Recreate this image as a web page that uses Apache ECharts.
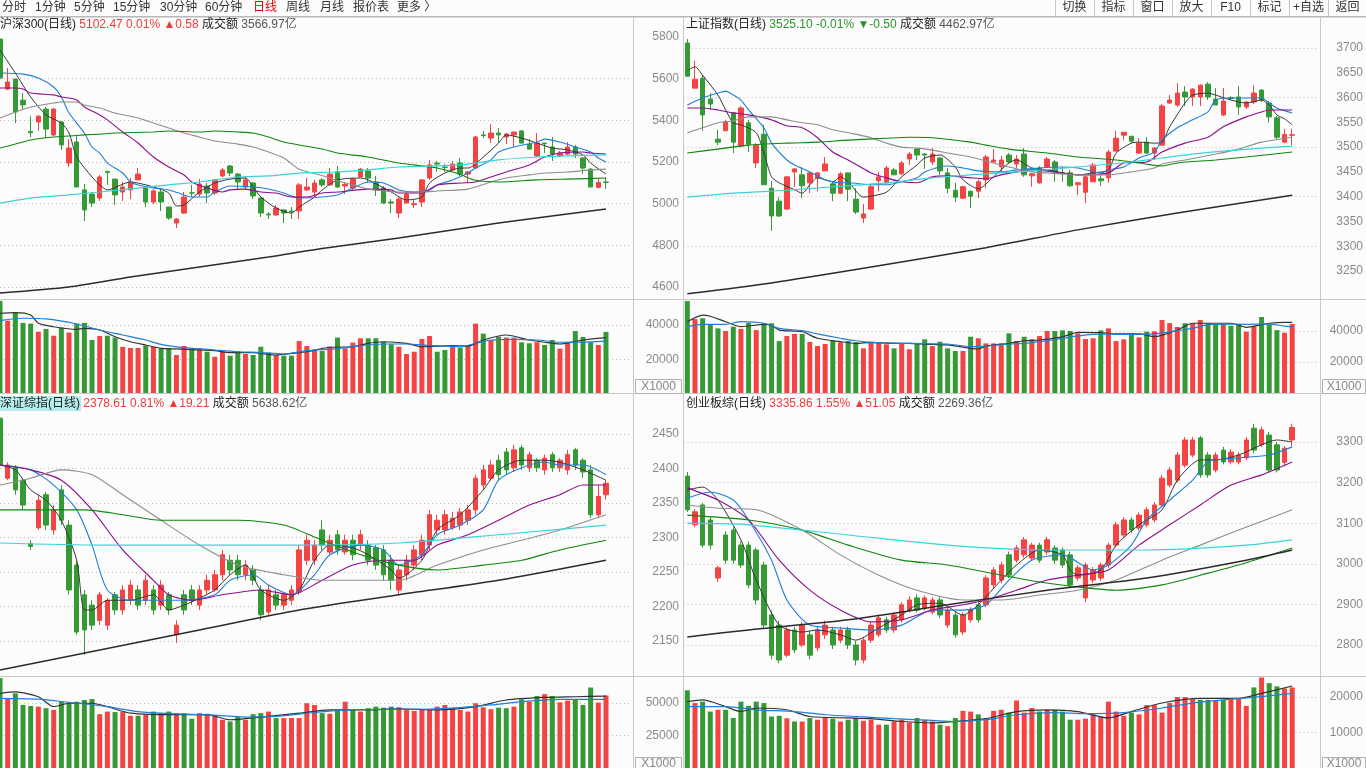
<!DOCTYPE html>
<html>
<head>
<meta charset="utf-8">
<title>日线</title>
<script src="https://cdn.jsdelivr.net/npm/echarts/dist/echarts.min.js"></script>
<style>
  html, body { margin: 0; padding: 0; background: #fcfcfc; }
  #main { width: 1366px; height: 768px; }
</style>
</head>
<body>
<div id="main"></div>
<script>
var RED = '#f44343';
var GREEN = '#359a35';

// 沪深300  [open, close, low, high]
var hsCandles = [
  [5790,5603,5600,5800],[5550,5584,5545,5651],[5598,5440,5387,5600],[5497,5474,5450,5531],[5346,5340,5320,5420],
  [5392,5420,5350,5425],[5454,5358,5315,5464],[5330,5454,5325,5460],[5392,5282,5258,5397],[5195,5267,5176,5310],
  [5296,5080,5080,5330],[5066,4970,4917,5094],[5046,5003,4984,5056],[5027,5128,5013,5138],[5155,5150,5090,5157],
  [5118,5042,4994,5120],[5056,5080,5013,5104],[5066,5104,5022,5123],[5114,5142,5114,5171],[5075,5008,4984,5085],
  [5008,5061,4998,5070],[5056,5008,4965,5075],[4984,4931,4922,4984],[4907,4926,4883,4931],[4955,5032,4950,5056],
  [5052,5051,5032,5090],[5046,5094,5032,5118],[5085,5051,5003,5099],[5051,5114,5042,5118],[5133,5162,5128,5171],
  [5181,5147,5133,5186],[5142,5104,5066,5147],[5080,5114,5066,5133],[5099,5037,5022,5104],[5027,4955,4936,5032],
  [4950,4946,4926,4960],[4946,4979,4940,4994],[4970,4955,4907,4970],[4965,4962,4926,4984],[4965,5090,4926,5099],
  [5066,5080,5061,5123],[5056,5099,5032,5114],[5114,5090,5080,5123],[5090,5142,5090,5171],[5152,5080,5075,5181],
  [5085,5092,5046,5104],[5075,5118,5066,5123],[5128,5166,5128,5171],[5157,5123,5099,5171],[5104,5066,5037,5133],
  [5075,5003,4998,5085],[5008,5003,4955,5022],[4955,5022,4931,5032],[5003,5046,5003,5056],[4995,5000,4979,5022],
  [5008,5114,4984,5118],[5123,5186,5114,5210],[5195,5190,5152,5205],[5176,5174,5152,5190],[5162,5190,5157,5205],
  [5195,5142,5133,5219],[5142,5152,5099,5157],[5171,5320,5166,5325],[5330,5327,5315,5349],[5315,5339,5291,5382],
  [5339,5330,5291,5363],[5320,5334,5286,5339],[5330,5344,5272,5344],[5349,5291,5286,5354],[5286,5262,5258,5310],
  [5229,5291,5224,5339],[5291,5288,5243,5291],[5272,5238,5205,5320],[5229,5243,5224,5253],[5238,5272,5234,5296],
  [5272,5238,5219,5282],[5219,5171,5142,5224],[5166,5080,5080,5171],[5078,5101.89,5075,5123],[5104,5102.47,5070,5128]
];
var hsVolume = [
  53940,42500,47400,41200,40800,36100,37700,33800,38500,35600,40800,41200,31300,33600,33800,32700,27300,26700,26700,28200,
  27400,26500,26500,22600,27800,25900,26500,24500,21600,25100,22200,24800,23200,22600,27400,24000,22600,22200,22200,30700,
  27800,25500,24900,27400,32700,26500,29800,32300,32300,32300,30300,28800,27400,23200,24500,31900,33600,24500,25500,27400,
  26900,28400,40800,35000,31300,33200,32700,32700,30000,29400,30000,28400,31300,26300,30000,36500,33100,30000,28400,36000
];
var hsMA5 = [[0,5738],[2,5627],[4,5512],[6,5426],[8,5387],[9,5339],[10,5224],[12,5128],[13,5090],[14,5066],[17,5104],[18,5099],[20,5080],[22,5051],[23,4989],[24,4994],[26,5056],[28,5099],[30,5118],[32,5123],[33,5080],[34,5032],[36,4979],[38,4955],[39,4984],[41,5032],[42,5066],[44,5114],[47,5123],[48,5114],[51,5056],[53,5018],[55,5032],[56,5099],[58,5147],[60,5171],[61,5171],[63,5224],[65,5291],[66,5330],[68,5315],[70,5291],[72,5267],[74,5258],[76,5234],[77,5195],[79,5142]];
var hsMA10 = [[0,5627],[3,5622],[5,5603],[7,5560],[8,5512],[9,5435],[11,5339],[12,5272],[13,5243],[14,5195],[16,5147],[17,5104],[18,5090],[20,5075],[22,5066],[24,5042],[25,5032],[27,5032],[28,5056],[30,5085],[33,5080],[35,5070],[37,5051],[39,5027],[42,5032],[44,5042],[46,5075],[48,5104],[50,5099],[52,5066],[54,5056],[56,5066],[57,5090],[59,5114],[61,5147],[62,5171],[64,5210],[65,5248],[67,5272],[70,5296],[71,5310],[73,5296],[75,5272],[77,5248],[78,5219],[79,5200]];
var hsMA20 = [[0,5555],[2,5555],[3,5550],[4,5531],[7,5522],[8,5512],[10,5498],[11,5464],[13,5426],[14,5402],[16,5344],[18,5291],[20,5224],[22,5176],[24,5138],[25,5104],[27,5075],[29,5056],[30,5066],[32,5070],[34,5056],[36,5051],[38,5032],[40,5032],[42,5051],[44,5056],[48,5070],[51,5066],[52,5051],[55,5051],[57,5090],[60,5099],[62,5104],[64,5128],[66,5152],[69,5186],[71,5224],[73,5243],[76,5248],[77,5243],[79,5238]];
var hsMA30 = [[0,5411],[2,5440],[4,5464],[7,5483],[8,5488],[10,5488],[11,5474],[13,5459],[15,5435],[18,5411],[20,5387],[22,5363],[24,5339],[26,5320],[28,5301],[31,5286],[33,5272],[35,5248],[37,5219],[39,5165],[42,5135],[44,5110],[46,5090],[48,5070],[50,5061],[52,5056],[55,5056],[57,5061],[61,5070],[64,5104],[66,5123],[69,5138],[71,5147],[74,5152],[77,5162],[79,5166]];
var hsMA60 = [[0,5267],[2,5286],[4,5306],[7,5320],[9,5325],[11,5330],[13,5334],[15,5339],[20,5344],[22,5349],[26,5344],[28,5349],[31,5344],[33,5339],[35,5320],[37,5296],[39,5282],[42,5262],[44,5243],[48,5224],[52,5195],[57,5171],[60,5140],[62,5112],[65,5104],[70,5114],[74,5118],[79,5123]];
var hsMA120 = [[0,5003],[4,5027],[9,5042],[13,5056],[18,5075],[22,5090],[26,5104],[31,5128],[35,5133],[39,5147],[44,5152],[48,5162],[52,5176],[57,5181],[61,5190],[65,5210],[70,5224],[74,5229],[79,5234]];
var hsMA250 = [[0,4571],[9,4600],[17,4648],[26,4696],[35,4744],[42,4785],[52,4835],[65,4907],[79,4974]];
var hsVolMA5 = [[0,46800],[2,47200],[4,45800],[5,41000],[7,39000],[10,37500],[11,38000],[13,37100],[15,33200],[17,30300],[19,28400],[21,26500],[24,26000],[28,25100],[30,24000],[33,24000],[36,22600],[38,23500],[40,24500],[43,27100],[46,27400],[48,29400],[50,30300],[53,29400],[55,27400],[59,28000],[61,27700],[63,31300],[66,34200],[69,31300],[71,30000],[73,29000],[76,31300],[79,32700]];
var hsVolMA10 = [[0,42500],[3,43900],[6,43500],[10,40600],[13,37100],[16,34200],[19,31300],[21,28800],[24,26900],[28,25500],[31,24500],[34,24000],[37,23200],[40,25100],[44,26300],[47,28000],[50,29000],[53,29000],[56,28200],[60,27400],[62,29400],[64,31300],[67,31700],[70,31300],[73,30000],[77,30200],[79,30700]];

// 上证指数
var shCandles = [
  [3710,3643,3643,3718],[3619,3637,3619,3674],[3639,3565,3533,3645],[3597,3587,3575,3609],[3516,3510,3504,3535],
  [3533,3551,3533,3555],[3569,3510,3488,3569],[3502,3579,3500,3583],[3549,3506,3490,3555],[3468,3504,3458,3508],
  [3526,3424,3424,3545],[3417,3361,3331,3432],[3391,3361,3359,3399],[3375,3440,3373,3440],[3450,3456,3420,3458],
  [3444,3422,3397,3460],[3428,3448,3407,3450],[3438,3448,3411,3450],[3452,3466,3452,3480],[3426,3407,3391,3430],
  [3407,3446,3405,3450],[3448,3415,3391,3448],[3395,3369,3365,3417],[3357,3365,3347,3385],[3375,3420,3373,3424],
  [3432,3440,3411,3450],[3428,3458,3426,3462],[3454,3444,3444,3458],[3446,3468,3444,3472],[3476,3486,3464,3490],
  [3496,3484,3474,3498],[3486,3484,3456,3488],[3470,3486,3464,3498],[3478,3452,3444,3480],[3448,3417,3407,3458],
  [3413,3399,3389,3428],[3397,3420,3395,3422],[3411,3401,3377,3411],[3411,3430,3397,3434],[3434,3480,3417,3484],
  [3470,3474,3468,3496],[3460,3474,3450,3482],[3484,3470,3466,3488],[3466,3476,3458,3484],[3486,3444,3440,3498],
  [3442,3446,3420,3448],[3428,3458,3426,3462],[3460,3476,3458,3480],[3470,3450,3430,3474],[3448,3446,3430,3460],
  [3448,3422,3420,3454],[3424,3428,3403,3430],[3409,3440,3387,3442],[3430,3464,3430,3468],[3436,3432,3422,3444],
  [3438,3490,3428,3494],[3492,3518,3490,3533],[3524,3530,3514,3530],[3522,3512,3508,3522],[3488,3508,3486,3518],
  [3510,3488,3486,3520],[3488,3498,3474,3500],[3504,3583,3502,3587],[3589,3595,3587,3605],[3585,3609,3581,3629],
  [3611,3601,3583,3623],[3601,3617,3583,3619],[3601,3625,3583,3627],[3627,3601,3595,3631],[3597,3585,3585,3619],
  [3565,3593,3563,3619],[3600,3598,3595,3603],[3601,3581,3565,3623],[3581,3591,3577,3593],[3591,3609,3587,3625],
  [3615,3595,3591,3617],[3589,3561,3549,3593],[3559,3520,3516,3563],[3510,3525.6,3508,3537],[3524,3525.1,3504,3537]
];
var shVolume = [
  59300,47700,48200,44100,41700,40000,42800,41300,45300,40600,45000,45000,33500,36800,38100,38100,32900,30300,31600,33700,
  32700,33500,32700,28800,32700,32700,31400,28800,31600,28200,32000,34600,30300,33100,28800,27100,27100,36300,35300,32000,
  32000,32000,38500,33500,36300,34600,36800,40000,40000,40400,40000,38500,34800,35300,40400,41700,33500,34600,38500,35900,
  39600,39800,47100,45100,42600,45000,45000,47100,45000,44100,44500,43400,44300,39600,43200,49000,44300,40600,38900,44500
];
var shMA5 = [[0,3654],[1,3662],[2,3645],[4,3605],[5,3575],[6,3549],[7,3545],[9,3529],[10,3488],[11,3440],[12,3428],[14,3414],[15,3407],[16,3424],[17,3438],[19,3430],[20,3440],[21,3430],[23,3399],[24,3401],[26,3409],[28,3440],[30,3464],[31,3478],[33,3484],[35,3460],[36,3434],[38,3416],[40,3440],[42,3468],[43,3474],[45,3458],[47,3454],[49,3448],[51,3444],[53,3448],[55,3454],[56,3488],[58,3508],[59,3510],[61,3508],[62,3510],[63,3541],[65,3589],[66,3605],[68,3609],[69,3605],[71,3595],[73,3589],[75,3595],[76,3585],[77,3565],[78,3557],[79,3545]];
var shMA10 = [[0,3585],[2,3599],[4,3609],[5,3613],[6,3605],[7,3595],[8,3575],[10,3539],[11,3508],[13,3474],[14,3464],[16,3450],[18,3434],[20,3428],[21,3428],[24,3424],[26,3424],[28,3430],[30,3438],[31,3450],[33,3460],[34,3462],[36,3458],[38,3452],[41,3450],[43,3454],[46,3458],[49,3460],[51,3458],[54,3448],[55,3454],[57,3460],[59,3478],[61,3490],[62,3514],[64,3539],[66,3555],[68,3571],[69,3595],[71,3599],[73,3599],[75,3599],[76,3589],[77,3579],[79,3569]];
var shMA20 = [[0,3579],[2,3579],[4,3575],[6,3569],[8,3565],[11,3555],[13,3543],[15,3539],[17,3519],[19,3490],[21,3474],[24,3448],[26,3438],[28,3430],[30,3428],[32,3440],[34,3442],[37,3438],[39,3436],[41,3444],[45,3454],[48,3450],[51,3444],[55,3448],[57,3468],[60,3470],[62,3490],[65,3508],[68,3520],[70,3541],[73,3561],[75,3571],[76,3575],[79,3575]];
var shMA30 = [[0,3529],[2,3539],[4,3549],[6,3553],[8,3561],[11,3561],[13,3555],[15,3549],[17,3545],[19,3535],[21,3529],[24,3519],[26,3508],[28,3500],[30,3498],[32,3494],[34,3488],[37,3480],[39,3472],[42,3460],[45,3450],[49,3446],[51,3444],[55,3444],[58,3450],[61,3458],[62,3466],[65,3474],[69,3486],[72,3496],[75,3510],[79,3520]];
var shMA60 = [[0,3488],[4,3496],[8,3504],[13,3508],[17,3510],[21,3514],[26,3518],[29,3520],[32,3519],[37,3510],[39,3504],[42,3496],[47,3488],[51,3480],[56,3474],[59,3468],[62,3462],[64,3468],[69,3474],[73,3480],[79,3490]];
var shMA120 = [[0,3399],[6,3407],[13,3413],[19,3420],[26,3428],[32,3438],[39,3446],[45,3452],[51,3460],[58,3470],[62,3478],[66,3486],[70,3492],[75,3498],[79,3502]];
var shMA250 = [[0,3204],[11,3226],[24,3258],[39,3297],[51,3333],[64,3367],[79,3403]];
var shVolMA5 = [[0,46000],[2,50300],[3,49500],[5,46000],[7,42800],[10,44300],[11,43500],[12,40600],[15,39500],[17,35300],[20,33100],[22,32000],[24,32700],[27,32000],[29,32000],[32,31300],[34,31000],[37,28800],[38,28400],[39,30300],[42,32000],[44,33700],[46,34200],[49,36300],[51,39100],[54,38900],[56,38100],[59,38100],[61,36300],[64,40600],[66,45000],[68,45000],[71,45000],[73,42400],[76,45000],[78,45600],[79,45600]];
var shVolMA10 = [[0,42800],[2,44300],[5,44300],[7,46000],[10,45000],[12,41700],[15,40200],[17,38100],[20,35300],[22,33700],[24,32700],[29,32000],[34,31600],[37,29900],[39,30300],[42,31600],[44,32000],[46,33100],[49,35300],[51,36800],[54,38100],[57,37800],[61,38100],[64,40200],[66,41700],[68,44100],[71,44500],[73,44300],[76,44500],[78,43200],[79,42800]];

// 深证综指
var szCandles = [
  [2473,2405,2398,2478],[2386,2405,2383,2409],[2401,2369,2362,2405],[2383,2347,2340,2386],[2291,2287,2282,2296],
  [2314,2354,2311,2362],[2362,2318,2311,2366],[2311,2340,2304,2347],[2369,2325,2318,2376],[2318,2224,2217,2325],
  [2260,2163,2159,2267],[2217,2166,2130,2224],[2202,2173,2166,2209],[2180,2217,2173,2221],[2173,2209,2166,2212],
  [2217,2195,2188,2221],[2195,2224,2188,2231],[2209,2231,2202,2238],[2224,2202,2195,2231],[2209,2238,2202,2246],
  [2224,2195,2188,2231],[2202,2231,2195,2238],[2217,2195,2188,2221],[2159,2173,2147,2180],[2217,2195,2188,2224],
  [2224,2209,2202,2231],[2202,2224,2195,2231],[2224,2238,2217,2246],[2224,2246,2221,2253],[2246,2275,2238,2282],
  [2267,2253,2246,2275],[2267,2246,2238,2275],[2246,2260,2238,2267],[2253,2238,2231,2260],[2224,2188,2180,2231],
  [2192,2224,2188,2231],[2217,2202,2195,2224],[2202,2217,2195,2221],[2209,2224,2202,2231],[2221,2282,2217,2289],
  [2267,2296,2260,2304],[2267,2289,2260,2296],[2311,2289,2282,2325],[2279,2296,2275,2304],[2304,2282,2275,2311],
  [2279,2296,2275,2304],[2296,2275,2267,2304],[2289,2304,2282,2311],[2289,2267,2260,2296],[2285,2260,2253,2289],
  [2282,2246,2238,2289],[2267,2238,2224,2275],[2224,2253,2217,2260],[2246,2267,2238,2275],[2260,2282,2253,2289],
  [2275,2296,2267,2304],[2289,2333,2282,2340],[2311,2325,2304,2333],[2311,2333,2304,2340],[2314,2328,2311,2337],
  [2318,2337,2311,2343],[2325,2340,2318,2347],[2340,2386,2333,2391],[2376,2398,2369,2405],[2386,2405,2383,2412],
  [2412,2391,2383,2420],[2424,2398,2391,2430],[2401,2427,2395,2434],[2430,2405,2398,2434],[2401,2420,2395,2424],
  [2412,2401,2395,2415],[2398,2415,2391,2420],[2420,2401,2395,2424],[2401,2412,2395,2415],[2398,2420,2391,2427],
  [2427,2405,2398,2430],[2412,2395,2386,2415],[2398,2333,2328,2405],[2333,2359.4,2328,2376],[2362,2378.61,2355,2383]
];
var szVolume = [
  69200,53600,57400,48500,47700,47200,46000,44700,51000,49800,51000,52300,53000,41400,43400,43000,43000,40200,40200,40900,
  43400,42200,43400,42200,42200,37900,42200,41700,40900,37100,35800,39200,37100,41400,42200,43400,38400,38400,38400,38400,
  49800,48500,42200,41700,44700,51000,44700,43400,46000,47200,46400,47200,46700,44700,43900,45200,44700,47200,48500,46400,
  44700,43400,49800,46700,45200,46400,46000,47200,52800,51000,55300,56800,55300,50500,51800,52800,48500,61900,50300,55800
];
var szMA5 = [[0,2405],[2,2398],[4,2369],[6,2354],[8,2325],[10,2267],[11,2195],[12,2195],[14,2209],[17,2209],[20,2217],[22,2195],[24,2202],[26,2212],[28,2224],[30,2246],[32,2260],[34,2224],[37,2209],[39,2224],[41,2267],[43,2289],[46,2285],[48,2275],[51,2253],[52,2241],[55,2267],[57,2311],[60,2333],[63,2369],[65,2398],[68,2412],[71,2412],[73,2409],[76,2398],[79,2383]];
var szMA10 = [[0,2405],[4,2398],[7,2376],[10,2340],[12,2289],[14,2224],[17,2209],[21,2209],[24,2209],[28,2217],[30,2238],[33,2246],[35,2231],[38,2217],[41,2246],[43,2275],[47,2289],[50,2282],[52,2260],[55,2275],[57,2304],[60,2318],[63,2340],[65,2383],[68,2401],[71,2409],[73,2405],[76,2405],[79,2391]];
var szMA20 = [[0,2405],[4,2398],[8,2383],[12,2340],[16,2282],[20,2238],[22,2217],[25,2209],[29,2217],[34,2224],[38,2217],[42,2238],[46,2260],[50,2267],[54,2267],[57,2289],[61,2304],[65,2325],[69,2347],[73,2362],[76,2376],[79,2376]];
var szMA30 = [[0,2376],[4,2386],[8,2398],[12,2391],[16,2362],[21,2325],[26,2289],[31,2260],[37,2246],[42,2238],[47,2238],[52,2238],[57,2260],[63,2282],[68,2296],[73,2311],[79,2333]];
var szMA60 = [[0,2340],[5,2340],[11,2340],[16,2333],[21,2325],[26,2325],[31,2325],[37,2318],[42,2296],[47,2275],[52,2260],[57,2253],[63,2260],[68,2267],[73,2282],[79,2296]];
var szMA120 = [[0,2292],[13,2289],[26,2289],[39,2289],[52,2292],[65,2304],[79,2318]];
var szMA250 = [[0,2108],[13,2137],[26,2166],[39,2195],[52,2217],[65,2238],[79,2267]];
var szVolMA5 = [[0,57400],[2,58500],[5,54800],[7,47200],[9,49800],[12,49800],[14,47200],[17,42200],[23,41000],[27,41000],[30,37100],[34,39200],[39,42200],[43,44700],[48,44700],[52,45500],[57,44700],[62,47200],[66,52300],[71,54300],[75,54800],[79,55300]];
var szVolMA10 = [[0,53600],[5,53000],[9,50500],[14,47200],[18,43400],[23,41700],[27,40900],[32,39200],[36,39700],[41,42700],[45,44700],[50,45200],[55,45200],[59,46000],[64,48500],[68,51000],[73,52800],[79,52800]];

// 创业板综
var cyCandles = [
  [3216,3133,3128,3226],[3096,3128,3090,3135],[3145,3046,3040,3150],[3108,3046,3035,3115],[2965,2990,2955,2995],
  [3071,3009,3000,3080],[3083,3009,3000,3090],[3046,2997,2990,3055],[3046,2948,2940,3055],[3034,2911,2900,3040],
  [2997,2849,2840,3005],[2874,2775,2765,2885],[2849,2763,2755,2860],[2775,2837,2770,2845],[2837,2788,2780,2845],
  [2800,2849,2795,2857],[2825,2775,2765,2835],[2793,2837,2785,2845],[2825,2849,2815,2860],[2837,2800,2790,2845],
  [2812,2837,2805,2845],[2837,2800,2790,2845],[2800,2763,2750,2810],[2763,2812,2755,2820],[2812,2849,2805,2857],
  [2825,2867,2820,2875],[2862,2837,2830,2870],[2837,2874,2830,2880],[2862,2899,2855,2905],[2886,2911,2880,2920],
  [2916,2886,2880,2925],[2891,2916,2885,2922],[2881,2911,2875,2918],[2911,2874,2866,2918],[2849,2886,2842,2893],
  [2874,2825,2818,2882],[2832,2874,2825,2880],[2862,2886,2855,2893],[2899,2862,2855,2905],[2899,2965,2893,2972],
  [2948,2985,2940,2992],[2960,2997,2952,3005],[3022,2972,2965,3030],[3009,3039,3003,3046],[3022,3059,3015,3066],
  [3014,3046,3008,3052],[3046,3009,3002,3052],[3029,3059,3022,3066],[3039,3009,3000,3046],[3034,2997,2990,3040],
  [3022,2948,2940,3030],[2965,2990,2958,2997],[2916,2997,2905,3003],[2960,2985,2952,2992],[2965,2997,2958,3003],
  [2997,3046,2990,3052],[3046,3096,3040,3103],[3071,3108,3064,3115],[3108,3083,3076,3115],[3088,3120,3082,3127],
  [3096,3133,3090,3140],[3108,3145,3102,3152],[3145,3211,3140,3219],[3194,3231,3188,3238],[3206,3268,3200,3275],
  [3243,3305,3237,3312],[3268,3305,3262,3312],[3310,3219,3212,3315],[3268,3219,3212,3275],[3231,3268,3225,3275],
  [3280,3251,3245,3288],[3251,3275,3245,3282],[3251,3268,3245,3275],[3261,3305,3255,3312],[3334,3280,3272,3345],
  [3293,3330,3288,3338],[3317,3231,3225,3325],[3293,3231,3225,3300],[3250,3284.81,3240,3290],[3305,3335.86,3290,3345]
];
var cyVolume = [
  21900,18300,18700,15900,16400,16400,14100,18700,17500,18700,18300,14500,14700,14000,13100,13100,14100,13600,14300,13900,
  13100,13600,14100,13300,13600,12200,12200,13100,13600,12800,14100,13600,13100,12200,11800,14100,16100,15900,15100,13900,
  16100,16400,15600,19000,15600,16900,15900,16400,16400,15900,13600,13600,13900,15100,14500,18700,15900,14700,15600,15100,
  17700,17700,15600,18300,20000,20000,19400,19200,19200,19000,19200,19400,19700,17500,22700,25500,23900,23000,22400,22700
];
var cyMA5 = [[0,3182],[2,3189],[4,3157],[7,3059],[9,2960],[12,2849],[15,2832],[17,2837],[20,2825],[22,2812],[25,2842],[28,2874],[30,2899],[33,2903],[36,2874],[38,2899],[41,2960],[43,2997],[46,3034],[49,3022],[50,2985],[51,2972],[54,2985],[56,3046],[59,3096],[62,3133],[64,3206],[67,3256],[69,3256],[72,3268],[75,3293],[77,3305],[79,3300]];
var cyMA10 = [[0,3162],[3,3177],[6,3157],[8,3108],[11,3009],[13,2911],[16,2849],[20,2842],[24,2837],[28,2849],[32,2886],[36,2886],[39,2899],[42,2960],[45,3009],[49,3022],[53,2985],[55,2997],[58,3046],[60,3108],[63,3157],[66,3206],[68,3251],[72,3261],[76,3268],[79,3288]];
var cyMA20 = [[0,3187],[4,3157],[8,3108],[12,3009],[16,2935],[20,2886],[24,2857],[28,2862],[32,2886],[36,2899],[39,2911],[43,2935],[47,2960],[51,2972],[55,2985],[59,3046],[63,3096],[67,3145],[71,3194],[75,3219],[79,3251]];
var cyMA30 = [[0,3145],[4,3137],[9,3133],[15,3083],[20,3022],[25,2972],[30,2935],[36,2911],[41,2911],[46,2923],[51,2935],[56,2960],[62,3009],[67,3046],[72,3083],[79,3133]];
var cyMA60 = [[0,3120],[8,3108],[15,3083],[21,3046],[28,3009],[34,2997],[41,2972],[46,2955],[51,2943],[56,2935],[62,2948],[67,2972],[72,2997],[79,3039]];
var cyMA120 = [[0,3100],[8,3096],[21,3071],[34,3046],[47,3034],[60,3034],[73,3046],[79,3059]];
var cyMA250 = [[0,2820],[8,2837],[21,2862],[34,2899],[47,2935],[60,2965],[73,3009],[79,3034]];
var cyVolMA5 = [[0,18700],[2,19200],[5,17300],[7,15900],[9,16900],[13,16400],[16,14500],[21,14100],[24,13900],[28,13100],[32,12700],[35,13100],[39,13900],[43,15900],[47,16400],[51,15900],[55,14100],[58,15900],[62,18300],[67,19600],[72,19600],[75,21000],[79,23100]];
var cyVolMA10 = [[0,17300],[5,17300],[9,16400],[14,15900],[18,15000],[23,14400],[27,13900],[32,13400],[35,13100],[39,13600],[43,15000],[48,15600],[52,15300],[57,15600],[62,16900],[66,18300],[71,19400],[75,20100],[79,21000]];

var maColors = ['#363636', '#1f7fd6', '#8a0f8a', '#8e8e8e', '#0d870d', '#3dd2da', '#2b2b2b'];
var maWidths = [1, 1.1, 1.1, 1.1, 1.1, 1.2, 1.5];
var volMaColors = ['#333333', '#1f7fd6'];

var LINE = '#bdbdbd';
var HIDE = 'rgba(0,0,0,0)';

// left-hand panels start their first candle at the frame edge, right-hand ones leave a half band
var panels = [
  { candles: hsCandles, volume: hsVolume, ma: [hsMA5, hsMA10, hsMA20, hsMA30, hsMA60, hsMA120, hsMA250], volMa: [hsVolMA5, hsVolMA10],
    left: 0, width: 629, gap: false, pTop: 37, pH: 250, pMin: 4600, pMax: 5800, pStep: 200, pLines: [LINE, LINE, LINE, LINE, LINE, LINE, HIDE],
    vTop: 325, vH: 69, vMax: 40000, vStep: 20000, margin: 50 },
  { candles: shCandles, volume: shVolume, ma: [shMA5, shMA10, shMA20, shMA30, shMA60, shMA120, shMA250], volMa: [shVolMA5, shVolMA10],
    left: 683.5, width: 636.6, gap: true, pTop: 48, pH: 223, pMin: 3250, pMax: 3700, pStep: 50, pLines: [HIDE, LINE],
    vTop: 331, vH: 62, vMax: 40000, vStep: 20000, margin: 44 },
  { candles: szCandles, volume: szVolume, ma: [szMA5, szMA10, szMA20, szMA30, szMA60, szMA120, szMA250], volMa: [szVolMA5, szVolMA10],
    left: 0, width: 629, gap: false, pTop: 434, pH: 207, pMin: 2150, pMax: 2450, pStep: 50, pLines: [LINE],
    vTop: 703, vH: 66, vMax: 50000, vStep: 25000, margin: 50 },
  { candles: cyCandles, volume: cyVolume, ma: [cyMA5, cyMA10, cyMA20, cyMA30, cyMA60, cyMA120, cyMA250], volMa: [cyVolMA5, cyVolMA10],
    left: 683.5, width: 636.6, gap: true, pTop: 442, pH: 203, pMin: 2800, pMax: 3300, pStep: 100, pLines: [LINE],
    vTop: 697, vH: 72, vMax: 20000, vStep: 10000, margin: 44 }
];

var axisFont = { color: '#8a8a8a', fontSize: 12, fontFamily: 'Liberation Sans, Arial, sans-serif' };

var option = {
  backgroundColor: '#fcfcfc',
  animation: false,
  grid: [], xAxis: [], yAxis: [], series: [], graphic: []
};

panels.forEach(function (p) {
  var g = option.grid.length;
  option.grid.push({ left: p.left, width: p.width, top: p.pTop, height: p.pH });
  option.grid.push({ left: p.left, width: p.width, top: p.vTop, height: p.vH });
  var cats = p.candles.map(function (c, i) { return i + 1; });
  [g, g + 1].forEach(function (gi) {
    option.xAxis.push({ type: 'category', gridIndex: gi, data: cats, max: 82, boundaryGap: p.gap, show: false });
  });
  option.yAxis.push({
    type: 'value', gridIndex: g, position: 'right', min: p.pMin, max: p.pMax, interval: p.pStep,
    axisLine: { show: false }, axisTick: { show: false },
    axisLabel: Object.assign({ margin: p.margin, align: 'right', formatter: function (v) { return String(v); } }, axisFont),
    splitLine: { show: true, lineStyle: { type: [1, 3], color: p.pLines, width: 1 } }
  });
  option.yAxis.push({
    type: 'value', gridIndex: g + 1, position: 'right', min: 0, max: p.vMax, interval: p.vStep,
    axisLine: { show: false }, axisTick: { show: false },
    axisLabel: Object.assign({ margin: p.margin, align: 'right', formatter: function (v) { return v === 0 ? '' : String(v); } }, axisFont),
    splitLine: { show: true, lineStyle: { type: [1, 3], color: [HIDE, LINE, LINE], width: 1 } }
  });

  option.series.push({
    type: 'candlestick', xAxisIndex: g, yAxisIndex: g, data: p.candles, barWidth: 5, clip: false, silent: true,
    itemStyle: { color: RED, color0: GREEN, borderColor: RED, borderColor0: GREEN, borderWidth: 1 }
  });
  p.ma.forEach(function (line, k) {
    option.series.push({
      type: 'line', xAxisIndex: g, yAxisIndex: g, data: line, showSymbol: false, smooth: 0.25, clip: false, silent: true,
      lineStyle: { color: maColors[k], width: maWidths[k] }, z: 3
    });
  });
  option.series.push({
    type: 'bar', xAxisIndex: g + 1, yAxisIndex: g + 1, barWidth: 5, clip: false, silent: true,
    data: p.volume.map(function (v, i) {
      var c = p.candles[i];
      return { value: v, itemStyle: { color: c[1] >= c[0] ? RED : GREEN } };
    })
  });
  p.volMa.forEach(function (line, k) {
    option.series.push({
      type: 'line', xAxisIndex: g + 1, yAxisIndex: g + 1, data: line, showSymbol: false, smooth: 0.25, clip: false, silent: true,
      lineStyle: { color: volMaColors[k], width: 1.2 }, z: 3
    });
  });
});

// toolbar
var tabs = ['分时', '1分钟', '5分钟', '15分钟', '30分钟', '60分钟', '日线', '周线', '月线', '报价表', '更多 〉'];
var tabX = [2, 35, 74, 113, 160, 205, 253, 286, 320, 353, 397];
var btns = ['切换', '指标', '窗口', '放大', 'F10', '标记', '+自选', '返回'];
var uiFont = '12px "Liberation Sans", "Noto Sans CJK SC", sans-serif';
var G = option.graphic;

G.push({ type: 'rect', shape: { x: 0, y: 0, width: 1366, height: 16 }, style: { fill: '#fcfcfc' }, z: 100 });
tabs.forEach(function (t, i) {
  G.push({ type: 'text', x: tabX[i], y: 8, style: { text: t, font: uiFont, fill: t === '日线' ? '#e60000' : '#333', textVerticalAlign: 'middle' }, z: 101 });
});
btns.forEach(function (t, i) {
  G.push({ type: 'line', shape: { x1: 1055.5 + i * 39, y1: 0, x2: 1055.5 + i * 39, y2: 16 }, style: { stroke: '#c4c4c4', lineWidth: 1 }, z: 101 });
  G.push({ type: 'text', x: 1074.5 + i * 39, y: 8, style: { text: t, font: uiFont, fill: '#333', textAlign: 'center', textVerticalAlign: 'middle' }, z: 101 });
});

// frame lines
var hLines = [16.5, 299.5, 393.5, 676.5];
hLines.forEach(function (y, i) {
  G.push({ type: 'line', shape: { x1: 0, y1: y, x2: 1366, y2: y }, style: { stroke: i === 0 ? '#b8b8b8' : '#c8c8c8', lineWidth: i === 0 ? 2 : 1 }, z: 90 });
});
[633.5, 683.5, 1320.5].forEach(function (x) {
  G.push({ type: 'line', shape: { x1: x, y1: 17, x2: x, y2: 768 }, style: { stroke: '#c8c8c8', lineWidth: 1 }, z: 90 });
});

// X1000 boxes
[[635, 379, 46, 14], [1322, 379, 43, 14], [635, 757, 46, 12], [1322, 757, 43, 12]].forEach(function (b) {
  G.push({ type: 'rect', shape: { x: b[0] + 0.5, y: b[1] + 0.5, width: b[2], height: b[3] }, style: { fill: '#fcfcfc', stroke: '#b0b0b0', lineWidth: 1 }, z: 95 });
  G.push({ type: 'text', x: b[0] + b[2] / 2 + 0.5, y: b[1] + b[3] / 2 + 1, style: { text: 'X1000', font: '12px "Liberation Sans", sans-serif', fill: '#888', textAlign: 'center', textVerticalAlign: 'middle' }, z: 96 });
});

// headers
G.push({ type: 'rect', shape: { x: 0, y: 396, width: 81, height: 15 }, style: { fill: '#b6eeee' }, z: 97 });
var headers = [
  { x: 0, y: 25, name: '沪深300(日线)', quote: '5102.47 0.01% ▲0.58', up: true, amount: '3566.97亿' },
  { x: 686, y: 25, name: '上证指数(日线)', quote: '3525.10 -0.01% ▼-0.50', up: false, amount: '4462.97亿' },
  { x: 0, y: 403.5, name: '深证综指(日线)', quote: '2378.61 0.81% ▲19.21', up: true, amount: '5638.62亿' },
  { x: 686, y: 403.5, name: '创业板综(日线)', quote: '3335.86 1.55% ▲51.05', up: true, amount: '2269.36亿' }
];
headers.forEach(function (h) {
  G.push({
    type: 'text', x: h.x, y: h.y, z: 98,
    style: {
      text: '{a|' + h.name + '} {q|' + h.quote + '} {a|成交额} {m|' + h.amount + '}',
      textVerticalAlign: 'middle',
      rich: {
        a: { fill: '#222', font: uiFont },
        q: { fill: h.up ? '#f03a3a' : '#2a952a', font: uiFont },
        m: { fill: '#555', font: uiFont }
      }
    }
  });
});

var chart = echarts.init(document.getElementById('main'));
chart.setOption(option);
</script>
</body>
</html>
